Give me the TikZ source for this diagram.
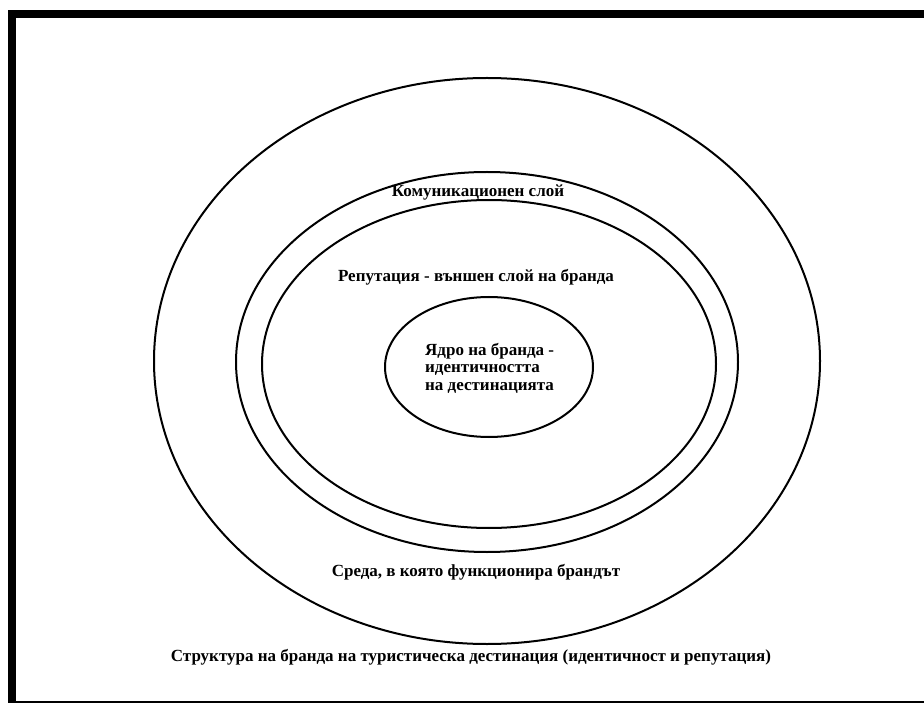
\documentclass[tikz,border=0pt]{standalone}
\usepackage{fontspec}
\setmainfont{Liberation Serif}
\begin{document}
\begin{tikzpicture}[x=1pt,y=-1pt,
  ring/.style={draw=black,line width=2pt},
  lbl/.style={font=\fontsize{17}{17.5}\selectfont\bfseries,inner sep=0pt}]
\useasboundingbox (0,0) rectangle (924,703);
\begin{scope}
\clip (0,0) rectangle (924,703);
\draw[line width=8pt] (12,14) rectangle (930,705);
\end{scope}
\draw[ring] (487,361) ellipse [x radius=333,y radius=283];
\draw[ring] (487,362) ellipse [x radius=251,y radius=190];
\draw[ring] (489,364) ellipse [x radius=227,y radius=164];
\draw[ring] (489,367) ellipse [x radius=104,y radius=70];
\node[lbl] (com) at (478,192) {Комуникационен слой};
\node[lbl] (rep) at (476,277) {Репутация - външен слой на бранда};
\node[lbl,align=left,anchor=west] (core) at (425,368) {Ядро на бранда -\\идентичността\\на дестинацията};
\node[lbl] (env) at (476,572) {Среда, в която функционира брандът};
\node[lbl] (title) at (471,657) {Структура на бранда на туристическа дестинация (идентичност и репутация)};
\end{tikzpicture}
\end{document}
